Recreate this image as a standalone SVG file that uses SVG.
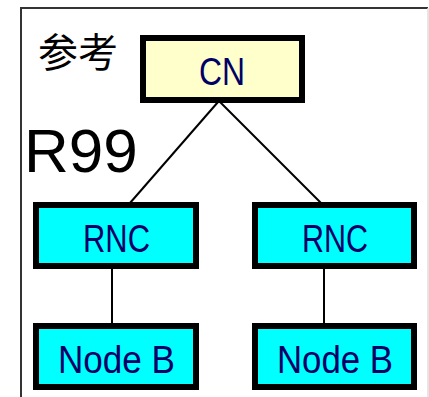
<svg xmlns="http://www.w3.org/2000/svg" width="429" height="397" viewBox="0 0 429 397">
<style>
.box{stroke:#000;stroke-width:6}
.cn{fill:#ffffcc}
.cy{fill:#00ffff}
.lbl{font-family:"Liberation Sans",Arial,sans-serif;font-size:38px;fill:#000066;text-anchor:middle}
.conn{stroke:#000;stroke-width:2;fill:none}
</style>
<rect x="0" y="0" width="429" height="397" fill="#fff"/>
<g id="frame">
<line x1="21" y1="8" x2="428" y2="8" stroke="#333" stroke-width="2"/>
<line x1="21" y1="7" x2="21" y2="397" stroke="#333" stroke-width="2"/>
<line x1="428" y1="8" x2="428" y2="397" stroke="#ddd" stroke-width="1.5"/>
</g>
<text x="38" y="67" font-family="'Noto Sans CJK SC','Noto Sans CJK JP',sans-serif" font-size="40" fill="#000">参考</text>
<text x="24" y="172" font-family="'Liberation Sans',Arial,sans-serif" font-size="62" fill="#000">R99</text>
<g id="connectors">
<line class="conn" x1="218" y1="102" x2="130" y2="203"/>
<line class="conn" x1="220" y1="102" x2="321" y2="203"/>
<line class="conn" x1="112" y1="268" x2="112" y2="324"/>
<line class="conn" x1="324" y1="268" x2="324" y2="324"/>
</g>
<g id="cn">
<rect class="box cn" x="143" y="38" width="159" height="62"/>
<text class="lbl" x="222" y="85" textLength="46" lengthAdjust="spacingAndGlyphs">CN</text>
</g>
<g id="rnc1">
<rect class="box cy" x="36" y="205" width="160" height="61"/>
<text class="lbl" x="116.5" y="252" textLength="67" lengthAdjust="spacingAndGlyphs">RNC</text>
</g>
<g id="rnc2">
<rect class="box cy" x="255" y="205" width="159" height="61"/>
<text class="lbl" x="335" y="252" textLength="66" lengthAdjust="spacingAndGlyphs">RNC</text>
</g>
<g id="nodeb1">
<rect class="box cy" x="36" y="326" width="160" height="61"/>
<text class="lbl" x="116.5" y="373" textLength="117" lengthAdjust="spacingAndGlyphs">Node B</text>
</g>
<g id="nodeb2">
<rect class="box cy" x="255" y="326" width="159" height="61"/>
<text class="lbl" x="335" y="373" textLength="116" lengthAdjust="spacingAndGlyphs">Node B</text>
</g>
</svg>
